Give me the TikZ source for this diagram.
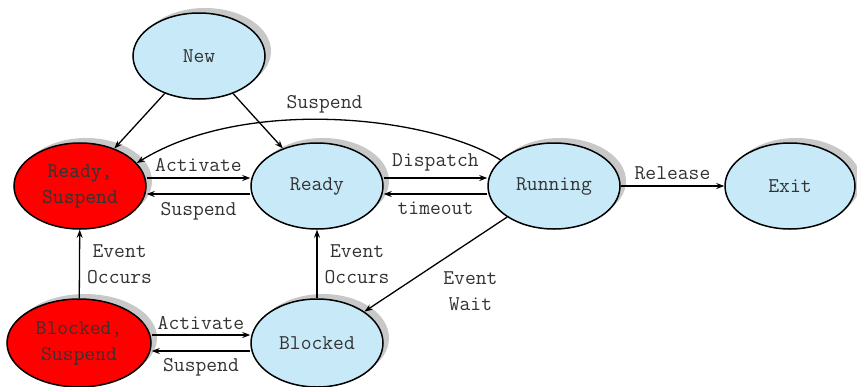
\documentclass[tikz,border=0pt]{standalone}
\usepackage{tikz}
\usetikzlibrary{shapes.geometric,shadows,arrows.meta}
\definecolor{procblue}{RGB}{200,234,248}
\definecolor{shadegray}{RGB}{200,200,200}

\begin{document}
\begin{tikzpicture}[x=1pt,y=-1pt,
  every node/.style={font=\ttfamily\fontsize{21}{26}\selectfont,text=black!80},
  state/.style={ellipse,draw=black,line width=1.5pt,fill=procblue,minimum width=132pt,minimum height=86pt,inner sep=0pt,align=center,
    drop shadow={shadow xshift=6pt,shadow yshift=5pt,fill=shadegray,opacity=1}},
  suspstate/.style={state,fill=red},
  trans/.style={-{Stealth[length=8pt,width=6pt]},line width=1.3pt},
  lbl/.style={align=center,inner sep=3pt}]
\useasboundingbox (0,0) rectangle (857,386);
\node[state](new) at (199,56){New};
\node[suspstate](rsusp) at (80,186){Ready,\\Suspend};
\node[state](ready) at (317,186){Ready};
\node[state](running) at (554,186){Running};
\node[state,minimum width=130pt](exit) at (790,186){Exit};
\node[suspstate,minimum width=144pt,minimum height=88pt](bsusp) at (79,343){Blocked,\\Suspend};
\node[state,minimum height=88pt](blocked) at (317,343){Blocked};
\draw[trans](new)--(rsusp);
\draw[trans](new)--(ready);
\draw[trans](running.154) .. controls (430,116) and (245,96) .. (rsusp.22) node[lbl,pos=0.52,above=3pt]{Suspend};
\draw[trans]([yshift=8pt]rsusp.east)--([yshift=8pt]ready.west) node[lbl,midway,above=3pt]{Activate};
\draw[trans]([yshift=-8pt]ready.west)--([yshift=-8pt]rsusp.east) node[lbl,midway,below=5pt]{Suspend};
\draw[trans]([yshift=8pt]ready.east)--([yshift=8pt]running.west) node[lbl,midway,above=3pt]{Dispatch};
\draw[trans]([yshift=-8pt]running.west)--([yshift=-8pt]ready.east) node[lbl,midway,below=4pt]{timeout};
\draw[trans](running)--(exit) node[lbl,midway,above=3pt]{Release};
\draw[trans](running)--(blocked) node[lbl,midway,below right=4pt]{Event\\Wait};
\draw[trans](blocked)--(ready) node[lbl,midway,right=4pt]{Event\\Occurs};
\draw[trans](bsusp)--(rsusp) node[lbl,midway,right=4pt]{Event\\Occurs};
\draw[trans]([yshift=8pt]bsusp.east)--([yshift=8pt]blocked.west) node[lbl,midway,above=2pt]{Activate};
\draw[trans]([yshift=-8pt]blocked.west)--([yshift=-8pt]bsusp.east) node[lbl,midway,below=4pt]{Suspend};
\end{tikzpicture}
\end{document}
